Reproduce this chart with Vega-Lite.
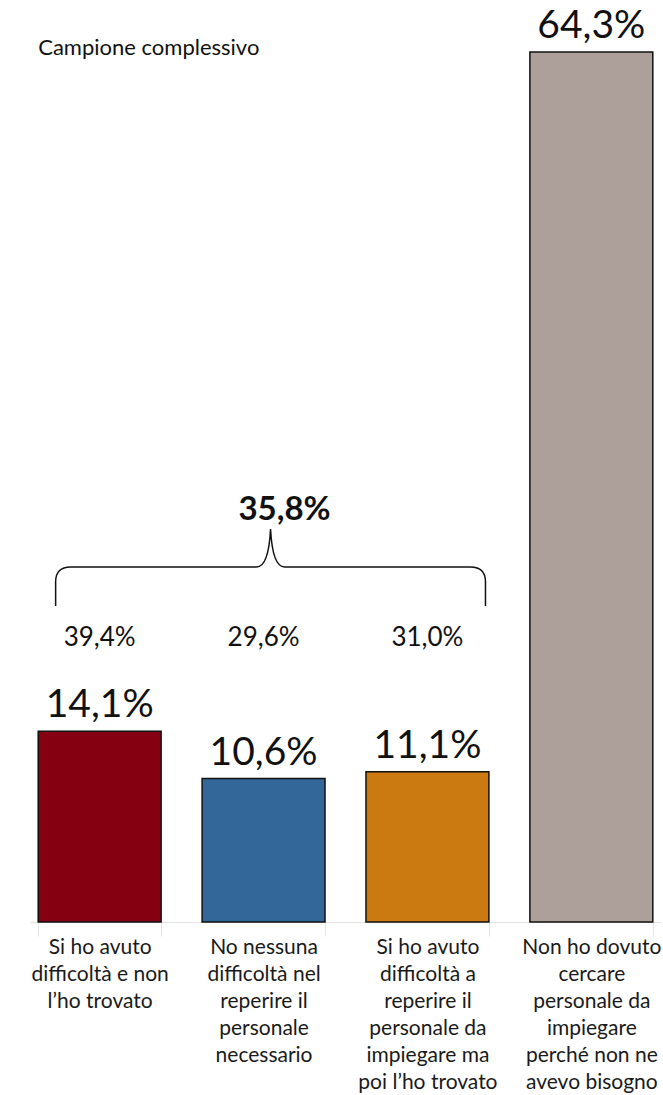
{
  "$schema": "https://vega.github.io/schema/vega-lite/v6.json",
  "width": 631,
  "height": 870,
  "autosize": "none",
  "padding": {"left": 30, "top": 52, "right": 2, "bottom": 173},
  "config": {"view": {"stroke": null}, "font": "Lato"},
  "data": {
    "values": [
      {"cat": "Si ho avuto|difficoltà e non|l’ho trovato", "value": 14.1, "label": "14,1%", "share": "39,4%"},
      {"cat": "No nessuna|difficoltà nel|reperire il|personale|necessario", "value": 10.6, "label": "10,6%", "share": "29,6%"},
      {"cat": "Si ho avuto|difficoltà a|reperire il|personale da|impiegare ma|poi l’ho trovato", "value": 11.1, "label": "11,1%", "share": "31,0%"},
      {"cat": "Non ho dovuto|cercare|personale da|impiegare|perché non ne|avevo bisogno", "value": 64.3, "label": "64,3%", "share": null}
    ]
  },
  "encoding": {
    "x": {
      "field": "cat", "type": "nominal", "sort": null,
      "scale": {"paddingInner": 0.25, "paddingOuter": 0.05},
      "axis": {
        "title": null, "labelAngle": 0, "labelExpr": "split(datum.label, '|')",
        "labelFontSize": 21, "labelLineHeight": 27, "labelPadding": 0,
        "labelColor": "#1a1a1a", "domainColor": "#e3e3e3", "tickColor": "#e3e3e3",
        "tickBand": "extent", "tickSize": 14, "labelBaseline": "top", "labelLimit": 0
      }
    }
  },
  "layer": [
    {
      "mark": {"type": "bar", "stroke": "#111111", "strokeWidth": 1.5},
      "encoding": {
        "y": {"field": "value", "type": "quantitative", "scale": {"domain": [0, 64.3], "nice": false}, "axis": null},
        "color": {
          "field": "cat", "type": "nominal", "sort": null,
          "scale": {"range": ["#850010", "#336699", "#CB7A12", "#ADA09B"]},
          "legend": null
        }
      }
    },
    {
      "mark": {"type": "text", "baseline": "alphabetic", "dy": -14, "fontSize": 39, "color": "#111111"},
      "encoding": {
        "y": {"field": "value", "type": "quantitative"},
        "text": {"field": "label"}
      }
    },
    {
      "transform": [{"filter": "datum.share != null"}],
      "mark": {"type": "text", "baseline": "middle", "fontSize": 26, "color": "#111111"},
      "encoding": {
        "y": {"datum": 21.0, "type": "quantitative"},
        "text": {"field": "share"}
      }
    },
    {
      "data": {"values": [{"cat": "No nessuna|difficoltà nel|reperire il|personale|necessario", "total": "35,8%"}]},
      "layer": [
        {
          "mark": {
            "type": "point", "filled": false, "stroke": "#111111", "strokeWidth": 1.5, "opacity": 1,
            "size": 186624, "xOffset": 7,
            "shape": "M -0.995 0.181 L -0.995 0.069 Q -0.995 0 -0.926 0 L -0.065 0 Q -0.009 0 0 -0.176 Q 0.009 0 0.065 0 L 0.926 0 Q 0.995 0 0.995 0.069 L 0.995 0.181"
          },
          "encoding": {
            "y": {"datum": 26.24, "type": "quantitative"}
          }
        },
        {
          "mark": {"type": "text", "baseline": "alphabetic", "fontSize": 33, "fontWeight": "bold", "dx": 21, "color": "#111111"},
          "encoding": {
            "y": {"datum": 29.7, "type": "quantitative"},
            "text": {"field": "total"}
          }
        }
      ]
    },
    {
      "data": {"values": [{"cat": "Si ho avuto|difficoltà e non|l’ho trovato", "note": "Campione complessivo"}]},
      "mark": {"type": "text", "align": "left", "baseline": "alphabetic", "fontSize": 22, "color": "#111111"},
      "encoding": {
        "x": {"field": "cat", "type": "nominal", "sort": null, "bandPosition": 0},
        "y": {"datum": 64.1, "type": "quantitative"},
        "text": {"field": "note"}
      }
    }
  ]
}
